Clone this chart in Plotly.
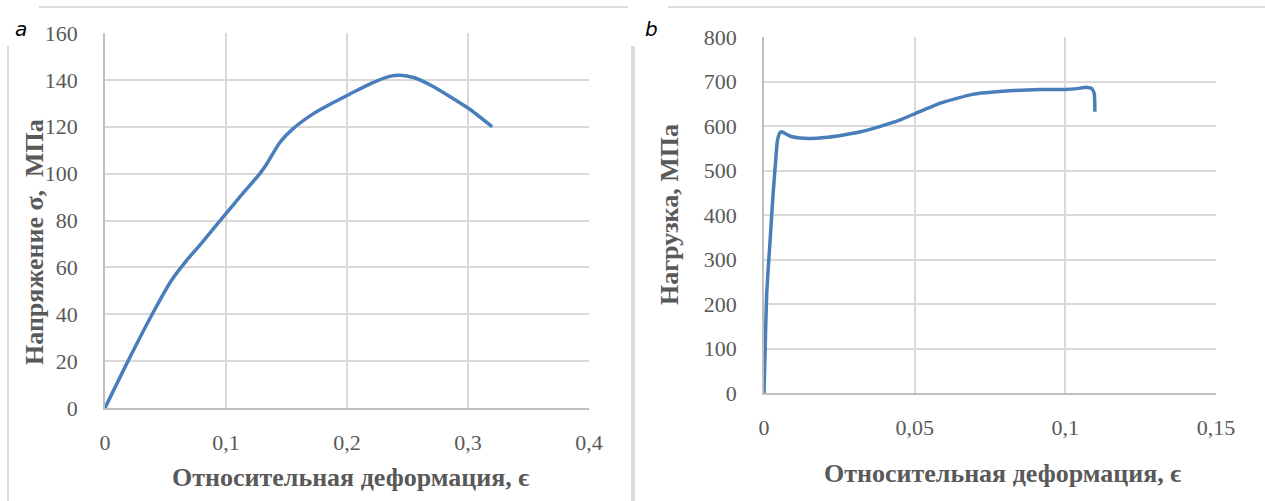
import plotly.graph_objects as go

# Panel a: stress-strain
strain_a = [0, 0.019, 0.039, 0.055, 0.0675, 0.08, 0.0975, 0.113, 0.128, 0.1335, 0.1445, 0.155, 0.172, 0.1875, 0.2025, 0.22, 0.235, 0.244, 0.255, 0.27, 0.3, 0.32]
stress_a = [0, 20, 40, 54.5, 63, 70.5, 81.4, 91, 100, 104, 113.3, 119, 125.5, 130, 134, 138.5, 141.5, 142, 141, 137.5, 128, 120]

# Panel b: load-strain
strain_b = [0, 0.0004, 0.0009, 0.002, 0.003, 0.0039, 0.0044, 0.0052, 0.0058, 0.0068, 0.0088, 0.012, 0.0155, 0.02, 0.0264, 0.032, 0.0375, 0.045, 0.0505, 0.0583, 0.0692, 0.0815, 0.0914, 0.0999, 0.104, 0.1069, 0.1088, 0.1096, 0.1098]
load_b = [0, 104, 225, 341, 446, 524, 565, 584, 587, 584, 577, 573, 572, 574, 580, 587, 597, 613, 629, 651, 671, 679, 682, 682, 684, 687, 684, 673, 632]

xticks_a = [0, 0.1, 0.2, 0.3, 0.4]
xticklabels_a = ["0", "0,1", "0,2", "0,3", "0,4"]
yticks_a = [0, 20, 40, 60, 80, 100, 120, 140, 160]
xticks_b = [0, 0.05, 0.1, 0.15]
xticklabels_b = ["0", "0,05", "0,1", "0,15"]
yticks_b = [0, 100, 200, 300, 400, 500, 600, 700, 800]

W, H = 1265, 501
LINE = "#4A7EBB"
GRID = "#D9D9D9"
TXT = "#595959"
SERIF = "Liberation Serif"

def px(x):
    return x / W

def py(y):
    return 1 - y / H

fig = go.Figure()
fig.add_trace(go.Scatter(x=strain_a, y=stress_a, mode="lines", xaxis="x", yaxis="y",
                         line=dict(color=LINE, width=3.5, shape="spline", smoothing=0.6), showlegend=False))
fig.add_trace(go.Scatter(x=strain_b, y=load_b, mode="lines", xaxis="x2", yaxis="y2",
                         line=dict(color=LINE, width=3.5, shape="spline", smoothing=0.4), showlegend=False))

tickfont = dict(family=SERIF, size=22, color=TXT)
common = dict(showgrid=True, gridcolor=GRID, gridwidth=1.5, zeroline=False, tickfont=tickfont,
              showline=True, linecolor="#BFBFBF", linewidth=1.5, ticks="", automargin=False)

fig.update_layout(
    width=W, height=H, autosize=False, margin=dict(l=0, r=0, t=0, b=0, pad=0),
    paper_bgcolor="white", plot_bgcolor="white",
    xaxis=dict(domain=[px(105), px(589)], range=[0, 0.4], tickvals=xticks_a, ticktext=xticklabels_a,
               anchor="y", ticklabelstandoff=14, **common),
    yaxis=dict(domain=[py(408), py(33)], range=[0, 160], tickvals=yticks_a,
               anchor="x", ticklabelstandoff=21, **common),
    xaxis2=dict(domain=[px(764), px(1216)], range=[0, 0.15], tickvals=xticks_b, ticktext=xticklabels_b,
                anchor="y2", ticklabelstandoff=14, **common),
    yaxis2=dict(domain=[py(393), py(37)], range=[0, 800], tickvals=yticks_b,
                anchor="x2", ticklabelstandoff=21, **common),
)

anns = [
    dict(text="<b>Относительная деформация, ϵ</b>", x=px(350), y=py(477), size=26),
    dict(text="<b>Относительная деформация, ϵ</b>", x=px(1002), y=py(473), size=26),
    dict(text="<b>Напряжение σ,  МПа</b>", x=px(34), y=py(242), textangle=-90, size=26),
    dict(text="<b>Нагрузка, МПа</b>", x=px(669), y=py(215), textangle=-90, size=26),
]
for a in anns:
    size = a.pop("size")
    fig.add_annotation(xref="paper", yref="paper", xanchor="center", yanchor="middle",
                       showarrow=False, font=dict(family=SERIF, size=size, color=TXT), **a)

# panel frames
BORDER = "#D0D0D0"
frame_lines = [
    (8, 7, 632, 7), (8, 7, 8, 501), (632, 7, 632, 501),
    (634, 7, 1265, 7), (634, 7, 634, 501),
]
for x0, y0, x1, y1 in frame_lines:
    fig.add_shape(type="line", xref="paper", yref="paper", x0=px(x0), y0=py(y0), x1=px(x1), y1=py(y1),
                  line=dict(color=BORDER, width=1.5))
# label boxes
for x0, x1 in [(0, 39), (628, 668)]:
    fig.add_shape(type="rect", xref="paper", yref="paper", x0=px(x0), x1=px(x1), y0=py(46), y1=py(0),
                  fillcolor="white", line=dict(width=0))

labfont = dict(family="DejaVu Sans, Noto Sans, sans-serif", size=20, color="black")
fig.add_annotation(xref="paper", yref="paper", x=px(21), y=py(29), text="<i>a</i>", showarrow=False,
                   font=labfont, xanchor="center", yanchor="middle")
fig.add_annotation(xref="paper", yref="paper", x=px(651), y=py(29), text="<i>b</i>", showarrow=False,
                   font=labfont, xanchor="center", yanchor="middle")

post = ("document.body.style.margin='0';document.body.style.padding='0';"
        "document.documentElement.style.overflow='hidden';document.body.style.overflow='hidden';")
fig.write_html("out.html", post_script=post, config={"displayModeBar": False})
